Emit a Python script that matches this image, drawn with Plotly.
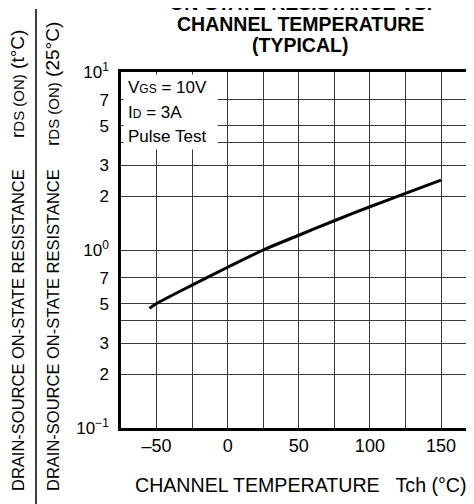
import plotly.graph_objects as go

# Data
temp_c = [-55, -50, -25, 0, 25, 50, 75, 100, 125, 150]
r_norm = [0.47, 0.50, 0.635, 0.80, 1.0, 1.21, 1.46, 1.75, 2.08, 2.47]

x_tick_vals = [-50, 0, 50, 100, 150]
x_tick_text = ["–50", "0", "50", "100", "150"]
x_minor_vals = [-25, 25, 75, 125]
y_tick_vals = [0.1, 0.2, 0.3, 0.5, 0.7, 1, 2, 3, 5, 7, 10]
y_tick_text = ["10<sup>−1</sup>", "2", "3", "5", "7", "10<sup>0</sup>",
               "2", "3", "5", "7", "10<sup>1</sup>"]
y_minor_vals = [0.4, 4]

FONT = "Liberation Sans, Arial, sans-serif"
W, H = 474, 504
OFF = 8  # page body margin offset
# plot area in screenshot pixels: x 121..474, y 72..428
SX0, SX1, SY0, SY1 = 121, 474, 72, 428
L = SX0 - OFF
T = SY0 - OFF
R = W - (SX1 - OFF)
B = H - (SY1 - OFF)
PW, PH = SX1 - SX0, SY1 - SY0

def px(xs):
    return (xs - SX0) / PW

def py(ys):
    return (SY1 - ys) / PH

GRID = "#3a3a3a"

fig = go.Figure()
fig.add_trace(go.Scatter(x=temp_c, y=r_norm, mode="lines",
                         line=dict(color="black", width=3, shape="spline", smoothing=0.8),
                         showlegend=False, hoverinfo="skip"))

fig.update_layout(
    width=W, height=H,
    margin=dict(l=L, r=R, t=T, b=B),
    paper_bgcolor="white", plot_bgcolor="white",
    font=dict(family=FONT, size=16, color="black"),
    xaxis=dict(range=[-75, 173.2], tickvals=x_tick_vals, ticktext=x_tick_text,
               showgrid=True, gridcolor=GRID, gridwidth=1, zeroline=False,
               minor=dict(tickvals=x_minor_vals, showgrid=True, gridcolor=GRID,
                          gridwidth=1),
               showline=True, linecolor="black", linewidth=2.5, mirror=True,
               ticks="", tickfont=dict(size=18)),
    yaxis=dict(type="log", range=[-1, 1], tickvals=y_tick_vals, ticktext=y_tick_text,
               showgrid=True, gridcolor=GRID, gridwidth=1, zeroline=False,
               minor=dict(tickvals=y_minor_vals, showgrid=True, gridcolor=GRID,
                          gridwidth=1),
               showline=True, linecolor="black", linewidth=2.5, mirror=False,
               ticks="", ticklabelstandoff=6, tickfont=dict(size=17)),
)

# white box that hides the grid behind the condition text
fig.add_annotation(text=" ", xref="paper", yref="paper", x=px(123), y=py(74),
                   xanchor="left", yanchor="top", showarrow=False,
                   width=93, height=74, bgcolor="white", borderpad=0,
                   font=dict(size=10))

small = "font-size:12px"
cond = [f"V<span style='{small}'>GS</span> = 10V",
        f"I<span style='{small}'>D</span> = 3A",
        "Pulse Test"]
for txt, ys in zip(cond, [87, 112, 136]):
    fig.add_annotation(text=txt, xref="paper", yref="paper", x=px(126), y=py(ys),
                       xanchor="left", yanchor="middle", showarrow=False,
                       font=dict(size=17))

# title lines
for txt, ys in zip(["ON-STATE RESISTANCE VS.", "CHANNEL TEMPERATURE", "(TYPICAL)"],
                   [3, 24, 45]):
    fig.add_annotation(text=f"<b>{txt}</b>", xref="paper", yref="paper",
                       x=px(300), y=py(ys), xanchor="center", yanchor="middle",
                       showarrow=False, font=dict(size=19.5))

# x axis title
fig.add_annotation(text="CHANNEL TEMPERATURE   Tch (°C)", xref="paper", yref="paper",
                   x=px(301), y=py(485), xanchor="center", yanchor="middle",
                   showarrow=False, font=dict(size=19.6))

# y axis title (fraction): numerator column and denominator column
sm = "font-size:15px"
for xs, temp_txt in [(18, "(t°C)"), (53, "(25°C)")]:
    fig.add_annotation(text="DRAIN-SOURCE ON-STATE RESISTANCE",
                       xref="paper", yref="paper", x=px(xs), y=py(330),
                       textangle=-90, xanchor="center", yanchor="middle",
                       showarrow=False, font=dict(size=16.5))
    fig.add_annotation(text=f"r<span style='{sm}'>DS (ON)</span> {temp_txt}",
                       xref="paper", yref="paper", x=px(xs), y=py(84),
                       textangle=-90, xanchor="center", yanchor="middle",
                       showarrow=False, font=dict(size=19))
# divider line of the fraction, drawn as a headless arrow
fig.add_annotation(text="", xref="paper", yref="paper", x=px(36), y=py(8),
                   ax=0, ay=504, axref="pixel", ayref="pixel",
                   showarrow=True, arrowhead=0, arrowwidth=1.5, arrowcolor="black",
                   standoff=0, startstandoff=0)

fig.write_html("out.html")
